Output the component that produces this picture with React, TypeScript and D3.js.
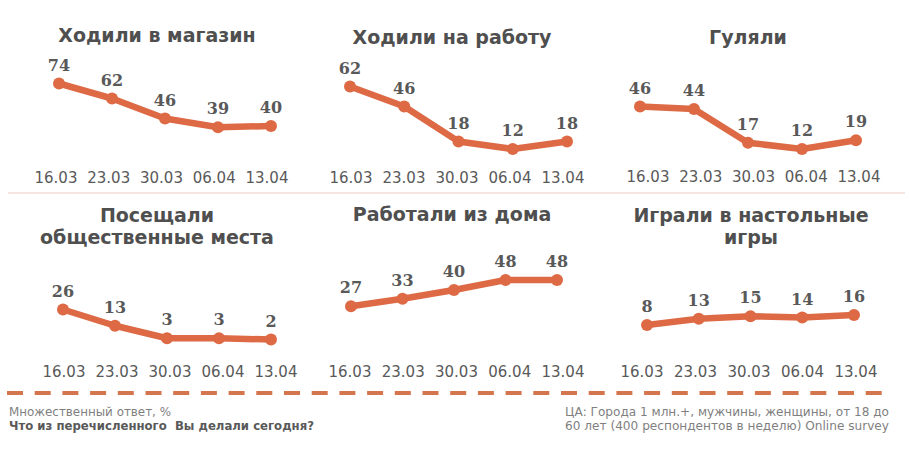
import * as d3 from "d3";

const dates = ["16.03", "23.03", "30.03", "06.04", "13.04"];

const shopValues = [74, 62, 46, 39, 40];
const workValues = [62, 46, 18, 12, 18];
const walkValues = [46, 44, 17, 12, 19];
const publicValues = [26, 13, 3, 3, 2];
const homeValues = [27, 33, 40, 48, 48];
const gamesValues = [8, 13, 15, 14, 16];

const titles = [
  ["Ходили в магазин"],
  ["Ходили на работу"],
  ["Гуляли"],
  ["Посещали", "общественные места"],
  ["Работали из дома"],
  ["Играли в настольные", "игры"],
];

const series = [shopValues, workValues, walkValues, publicValues, homeValues, gamesValues];

const footLeft = ["Множественный ответ, %", "Что из перечисленного  Вы делали сегодня?"];
const footRight = [
  "ЦА: Города 1 млн.+, мужчины, женщины, от 18 до",
  "60 лет (400 респондентов в неделю) Online survey",
];

// panel layout (pixels)
const layout = [
  { px: [59, 271], lx: [56, 267], base: 176, axisY: 178, tx: 157, ty: 35 },
  { px: [350, 567], lx: [351, 563], base: 164, axisY: 178, tx: 452, ty: 37 },
  { px: [640, 856], lx: [648, 859], base: 164, axisY: 177, tx: 748, ty: 37 },
  { px: [63, 271], lx: [64, 276], base: 342, axisY: 372, tx: 157, ty: 215 },
  { px: [351, 557], lx: [350, 563], base: 340, axisY: 372, tx: 452, ty: 214 },
  { px: [647, 854], lx: [642, 856], base: 335, axisY: 372, tx: 751, ty: 215 },
];

const lineColor = "#dd6a45";
const textColor = "#595959";

function Panel({ values, title, l }: { values: number[]; title: string[]; l: (typeof layout)[0] }) {
  const x = d3.scalePoint<string>().domain(dates).range(l.px as [number, number]);
  const xl = d3.scalePoint<string>().domain(dates).range(l.lx as [number, number]);
  const y = d3.scaleLinear().domain([0, 100]).range([l.base, l.base - 125]);
  const line = d3
    .line<number>()
    .x((_, i) => x(dates[i])!)
    .y((d) => y(d));

  return (
    <g>
      {title.map((t, i) => (
        <text
          key={t}
          x={l.tx}
          y={l.ty + i * 22}
          dy="0.35em"
          textAnchor="middle"
          fontFamily="DejaVu Sans"
          fontWeight="bold"
          fontSize={19}
          fill="#4f4f4f"
        >
          {t}
        </text>
      ))}
      <path d={line(values)!} fill="none" stroke={lineColor} strokeWidth={6.5} strokeLinejoin="round" />
      {values.map((v, i) => (
        <circle key={i} cx={x(dates[i])} cy={y(v)} r={6} fill={lineColor} />
      ))}
      {values.map((v, i) => (
        <text
          key={"l" + i}
          x={x(dates[i])}
          y={y(v) - 13}
          textAnchor="middle"
          fontFamily="DejaVu Serif"
          fontWeight="bold"
          fontSize={16}
          fill={textColor}
        >
          {v}
        </text>
      ))}
      {dates.map((d) => (
        <text
          key={d}
          x={xl(d)}
          y={l.axisY}
          dy="0.35em"
          textAnchor="middle"
          fontFamily="DejaVu Sans"
          fontSize={15}
          fill={textColor}
        >
          {d}
        </text>
      ))}
    </g>
  );
}

export default function App() {
  return (
    <svg
      width={909}
      height={454}
      viewBox="0 0 909 454"
      style={{ position: "absolute", left: 0, top: 0, background: "#fff" }}
    >
      <line x1={8} x2={905} y1={193} y2={193} stroke="#f2ddd6" strokeWidth={1.5} />
      {series.map((s, i) => (
        <Panel key={i} values={s} title={titles[i]} l={layout[i]} />
      ))}
      <line
        x1={7}
        x2={893}
        y1={393}
        y2={393}
        stroke="#d5754e"
        strokeWidth={4}
        strokeDasharray="16 11.7"
      />
      <text x={9} y={416} fontFamily="DejaVu Sans" fontSize={12.5} fill="#7f7f7f" textLength={162} lengthAdjust="spacingAndGlyphs">
        {footLeft[0]}
      </text>
      <text
        x={9}
        y={430}
        fontFamily="DejaVu Sans"
        fontWeight="bold"
        fontSize={12.5}
        fill={textColor}
        textLength={305}
        lengthAdjust="spacingAndGlyphs"
        style={{ whiteSpace: "pre" }}
      >
        {footLeft[1]}
      </text>
      <text x={889} y={416} textAnchor="end" fontFamily="DejaVu Sans" fontSize={12.5} fill="#7f7f7f" textLength={324} lengthAdjust="spacingAndGlyphs">
        {footRight[0]}
      </text>
      <text x={889} y={430} textAnchor="end" fontFamily="DejaVu Sans" fontSize={12.5} fill="#7f7f7f" textLength={324} lengthAdjust="spacingAndGlyphs">
        {footRight[1]}
      </text>
    </svg>
  );
}
